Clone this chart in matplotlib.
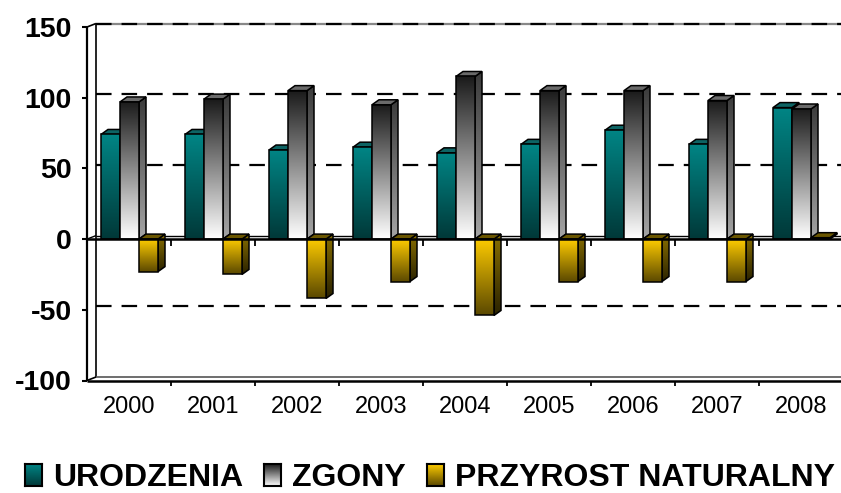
import numpy as np
import matplotlib
matplotlib.use('Agg')
import matplotlib.pyplot as plt
from matplotlib.colors import LinearSegmentedColormap
from matplotlib.patches import Polygon, Rectangle

plt.rcParams['font.family'] = ['Liberation Sans', 'DejaVu Sans']

# ---------------- data ----------------
years = ['2000', '2001', '2002', '2003', '2004', '2005', '2006', '2007', '2008']
urodzenia = [74, 74, 63, 65, 61, 67, 77, 67, 93]
zgony = [97, 99, 105, 95, 115, 105, 105, 98, 92]
przyrost = [-23, -25, -42, -30, -54, -30, -30, -30, 1]
series_names = ['URODZENIA', 'ZGONY', 'PRZYROST NATURALNY']
yticks = [-100, -50, 0, 50, 100, 150]
gridlines = [-50, 50, 100]

# styles: (front top, front bottom, side top, side bottom, top face)
styles = [
    ('#008585', '#003838', '#005555', '#002222', '#0d6464'),
    ('#1a1a1a', '#ffffff', '#3a3a3a', '#a5a5a5', '#6a6a6a'),
    ('#ffcc00', '#5a4800', '#8a7000', '#2a2200', '#6a5600'),
]

W, H = 841, 493
fig = plt.figure(figsize=(W / 100, H / 100), dpi=100)
ax_left, ax_right = 87, 843
ax_top, ax_bot = 27, 380.5
ax = fig.add_axes([ax_left / W, 1 - ax_bot / H, (ax_right - ax_left) / W, (ax_bot - ax_top) / H])
xmin, xmax = -0.5, 8.5
ymin, ymax = -100, 150
ppx = (ax_right - ax_left) / (xmax - xmin)
ppy = (ax_bot - ax_top) / (ymax - ymin)


def dxp(p):
    return p / ppx


def dyp(p):
    return p / ppy


wdx, wdy = dxp(9), dyp(3.5)      # wall depth
bdx, bdy = dxp(7), dyp(5)        # bar depth
bw = dxp(19)
boff = dxp(14)

grad = np.linspace(0, 1, 256).reshape(-1, 1)


def grad_poly(verts, c_top, c_bot, z, lw=1.1, edge='black'):
    verts = np.array(verts, dtype=float)
    x0, x1 = verts[:, 0].min(), verts[:, 0].max()
    y0, y1 = verts[:, 1].min(), verts[:, 1].max()
    cmap = LinearSegmentedColormap.from_list('g', [c_bot, c_top])
    im = ax.imshow(grad, cmap=cmap, extent=[x0, x1, y0, y1], origin='lower',
                   aspect='auto', zorder=z, interpolation='bilinear')
    poly = Polygon(verts, closed=True, facecolor='none', edgecolor=edge,
                   lw=lw, zorder=z + 0.001, joinstyle='miter')
    ax.add_patch(poly)
    im.set_clip_path(poly)


def solid_poly(verts, color, z, lw=1.1):
    ax.add_patch(Polygon(verts, closed=True, facecolor=color, edgecolor='black',
                         lw=lw, zorder=z, joinstyle='miter'))


# ---------------- walls ----------------
xb = xmin + wdx
line_kw = dict(clip_on=False, solid_capstyle='butt')
for v in gridlines:
    ax.plot([xb, xmax + 1], [v + wdy, v + wdy], color='black', lw=1.6,
            linestyle=(0, (7, 4.5)), zorder=1, clip_on=False)
# top wall edge
ax.plot([xb, xmax + 1], [ymax + wdy, ymax + wdy], color='#888888', lw=1.6, zorder=1, **line_kw)
ax.plot([xb, xmax + 1], [ymax + wdy, ymax + wdy], color='black', lw=1.6,
        linestyle=(0, (7, 4.5)), zorder=1.1, clip_on=False)
ax.plot([xmin, xb], [ymax, ymax + wdy], color='black', lw=1.2, zorder=1, **line_kw)
# left walls
ax.plot([xmin, xmin], [ymin, ymax], color='black', lw=1.6, zorder=1, **line_kw)
ax.plot([xb, xb], [ymin + wdy, ymax + wdy], color='black', lw=1.2, zorder=1, **line_kw)
# bottom floor
ax.plot([xb, xmax + 1], [ymin + wdy, ymin + wdy], color='#555555', lw=1.2, zorder=1, **line_kw)
ax.plot([xmin, xmax + 1], [ymin, ymin], color='black', lw=1.8, zorder=1, **line_kw)
ax.plot([xmin, xb], [ymin, ymin + wdy], color='black', lw=1.2, zorder=1, **line_kw)
# zero floor (back)
ax.plot([xb, xmax + 1], [wdy, wdy], color='black', lw=1.0, zorder=1.5, **line_kw)
ax.plot([xmin, xb], [0, wdy], color='black', lw=1.0, zorder=1.5, **line_kw)

# boundary ticks
for k in range(len(years) - 1):
    xk = k + 0.5
    ax.plot([xk, xk], [0, -dyp(7)], color='black', lw=1.3, zorder=1.5, **line_kw)
    ax.plot([xk, xk], [ymin, ymin - dyp(6)], color='black', lw=1.3, zorder=1.5, **line_kw)

# ---------------- bars ----------------
series = [urodzenia, zgony, przyrost]
for i in range(len(years)):
    for s, vals in enumerate(series):
        v = vals[i]
        ft, fb, st, sb, tc = styles[s]
        xl = i - 0.5 + boff + s * bw
        xr = xl + bw
        hi, lo = max(0, v), min(0, v)
        z = 3 + i * 0.1 + s * 0.03
        # side
        grad_poly([(xr, lo), (xr + bdx, lo + bdy), (xr + bdx, hi + bdy), (xr, hi)], st, sb, z)
        # top
        solid_poly([(xl, hi), (xr, hi), (xr + bdx, hi + bdy), (xl + bdx, hi + bdy)], tc, z + 0.005)
        # front
        grad_poly([(xl, lo), (xr, lo), (xr, hi), (xl, hi)], ft, fb, z + 0.01)

# zero front line
ax.plot([xmin, xmax + 1], [0, 0], color='black', lw=1.8, zorder=20, **line_kw)

ax.set_xlim(xmin, xmax)
ax.set_ylim(ymin, ymax)
ax.set_aspect('auto')
for sp in ax.spines.values():
    sp.set_visible(False)
ax.set_yticks(yticks)
ax.set_yticklabels([str(t) for t in yticks], fontsize=20.5, fontweight='bold')
ax.tick_params(axis='y', length=3.8, width=1.5, pad=7)
ax.set_xticks(range(len(years)))
ax.set_xticklabels(years, fontsize=17)
ax.tick_params(axis='x', length=0, pad=11)
ax.patch.set_visible(False)

# ---------------- legend ----------------
fig.canvas.draw()
renderer = fig.canvas.get_renderer()
x = 25.0
box_w, box_h = 17, 22
base_y = 486
for s, name in enumerate(series_names):
    ft, fb = styles[s][0], styles[s][1]
    bax = fig.add_axes([x / W, (H - base_y) / H, box_w / W, box_h / H])
    cmap = LinearSegmentedColormap.from_list('g', [fb, ft])
    bax.imshow(grad, cmap=cmap, origin='lower', aspect='auto', extent=[0, 1, 0, 1])
    bax.set_xlim(0, 1)
    bax.set_ylim(0, 1)
    bax.set_xticks([])
    bax.set_yticks([])
    for sp in bax.spines.values():
        sp.set_linewidth(1.5)
        sp.set_color('black')
    tx = x + box_w + 11
    t = fig.text(tx / W, (H - base_y) / H, name, fontsize=23, fontweight='bold',
                 ha='left', va='baseline')
    bb = t.get_window_extent(renderer)
    x = bb.x1 + 21

fig.savefig('out.png', dpi=100)
